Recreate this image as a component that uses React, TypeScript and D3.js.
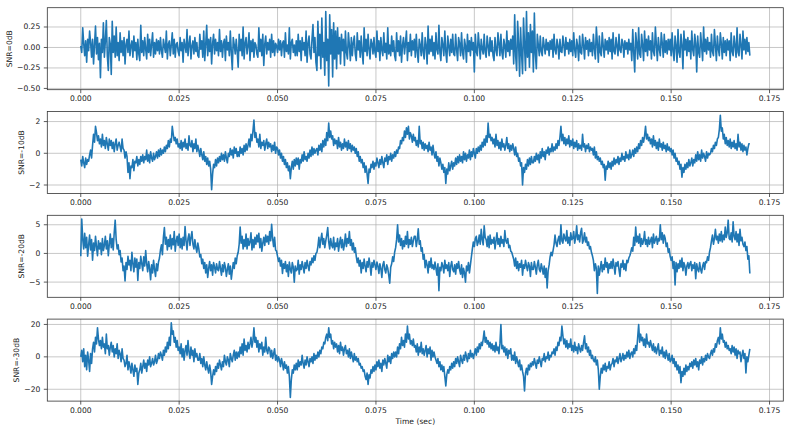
import * as d3 from "d3";

const W = 791;
const H = 433;
const DT = 0.00025; // seconds between samples

const xTicks = [0, 0.025, 0.05, 0.075, 0.1, 0.125, 0.15, 0.175];

// SNR = 0 dB (one row = 5 ms)
const snr0 = [
  0.02, -0.06, 0.24, 0.05, -0.1, 0.08, -0.18, 0.1, -0.04, 0.2, 0.06, -0.12, 0.1, -0.2, 0.04, 0.26, -0.08, 0.12, -0.15, 0.05,
  -0.37, 0.1, -0.06, 0.3, -0.12, 0.08, 0.33, -0.1, -0.28, 0.12, 0.04, -0.33, 0.32, -0.06, 0.14, -0.12, 0.25, -0.1, 0.06, -0.16,
  0.18, -0.06, 0.08, -0.1, 0.12, -0.2, 0.04, 0.1, -0.06, 0.2, -0.1, 0.02, 0.08, -0.12, 0.14, -0.04, 0.06, -0.15, 0.1, -0.08,
  -0.16, 0.27, -0.06, 0.08, -0.1, 0.12, -0.02, -0.14, 0.16, -0.06, 0.1, -0.1, 0.04, 0.18, -0.12, 0.06, -0.08, 0.1, -0.04, 0.08,
  -0.08, 0.12, -0.04, -0.12, 0.1, 0.02, -0.06, 0.2, -0.14, 0.04, 0.08, -0.1, 0.03, 0.18, -0.08, 0.1, -0.12, 0.04, 0.06, -0.05,
  -0.1, 0.12, -0.04, 0.06, -0.18, 0.1, 0.02, -0.06, 0.22, -0.1, 0.04, 0.14, -0.14, 0.02, 0.08, -0.08, 0.12, -0.05, 0.06, -0.1,
  -0.12, 0.16, -0.02, 0.08, -0.12, 0.2, -0.16, 0.04, 0.27, -0.1, 0.1, -0.05, 0.12, -0.2, 0.05, 0.16, -0.08, 0.1, -0.04, 0.06,
  -0.1, 0.22, -0.05, 0.08, -0.12, 0.05, 0.1, -0.16, 0.14, -0.03, 0.06, -0.1, 0.2, -0.06, -0.27, 0.12, 0.03, -0.08, 0.1, -0.05,
  -0.24, 0.16, -0.04, 0.1, -0.1, 0.25, -0.14, 0.05, 0.12, -0.08, 0.02, 0.18, -0.16, 0.08, -0.05, 0.1, -0.12, 0.06, 0.03, -0.08,
  -0.12, 0.24, -0.05, 0.1, -0.1, 0.16, -0.22, 0.04, 0.14, -0.08, 0.06, -0.03, 0.1, -0.12, 0.16, -0.06, 0.08, -0.1, 0.05, 0.02,
  -0.06, 0.1, -0.03, 0.08, -0.1, 0.05, 0.08, -0.12, 0.18, -0.05, 0.03, -0.08, 0.24, -0.14, 0.06, 0.1, -0.06, 0.03, -0.1, 0.08,
  -0.1, 0.16, -0.05, 0.08, -0.16, 0.12, -0.03, 0.06, -0.1, 0.2, -0.18, 0.05, 0.14, -0.08, -0.14, 0.1, 0.28, -0.06, 0.12, -0.18,
  -0.28, 0.32, -0.1, 0.16, -0.26, 0.36, -0.12, 0.06, -0.34, 0.44, -0.16, 0.1, -0.47, 0.4, -0.08, 0.22, -0.36, 0.3, -0.14, 0.2,
  -0.26, 0.24, -0.08, 0.12, -0.2, 0.16, -0.04, 0.1, -0.22, 0.2, -0.06, -0.14, 0.18, 0.03, -0.16, 0.12, -0.1, 0.06, 0.14, -0.08,
  -0.16, 0.18, -0.03, 0.08, -0.12, 0.14, -0.06, -0.2, 0.24, -0.05, 0.1, -0.1, 0.16, -0.02, -0.14, 0.1, 0.05, -0.08, 0.12, -0.06,
  -0.12, 0.2, -0.05, 0.08, -0.16, 0.12, -0.03, -0.1, 0.18, -0.06, 0.05, -0.14, 0.24, -0.08, 0.03, -0.1, 0.14, -0.05, 0.08, -0.1,
  -0.16, 0.18, -0.05, 0.08, -0.1, 0.14, -0.18, 0.03, 0.12, -0.08, 0.05, 0.2, -0.16, 0.06, -0.05, 0.16, -0.1, 0.08, -0.03, 0.1,
  -0.12, 0.16, -0.05, -0.18, 0.1, 0.03, -0.1, 0.18, -0.06, -0.14, 0.12, 0.02, -0.2, 0.26, -0.08, 0.1, -0.05, 0.14, -0.1, 0.06,
  -0.14, 0.18, -0.03, -0.08, 0.27, -0.06, -0.16, 0.12, 0.03, -0.1, 0.2, -0.05, -0.18, 0.14, 0.02, -0.1, 0.1, -0.06, 0.16, -0.08,
  -0.1, 0.16, -0.03, -0.16, 0.12, 0.05, -0.1, 0.18, -0.06, -0.14, 0.1, 0.02, -0.18, 0.16, -0.05, 0.08, -0.1, 0.12, -0.03, 0.06,
  -0.3, 0.16, -0.05, -0.1, 0.18, 0.03, -0.14, 0.1, -0.02, -0.08, 0.16, -0.06, -0.12, 0.14, 0.02, -0.1, 0.12, -0.05, 0.08, -0.1,
  -0.16, 0.12, -0.03, -0.1, 0.18, 0.05, -0.1, 0.16, -0.06, -0.14, 0.1, 0.02, -0.12, 0.2, -0.05, 0.08, -0.1, 0.1, -0.02, 0.14,
  -0.2, 0.4, -0.1, -0.28, 0.32, 0.05, -0.35, 0.24, -0.08, -0.32, 0.36, 0.02, -0.28, 0.44, -0.12, 0.18, -0.24, 0.28, -0.06, 0.2,
  -0.3, 0.42, -0.08, -0.26, 0.16, 0.03, -0.1, 0.14, -0.05, -0.1, 0.12, 0.02, -0.08, 0.1, -0.03, 0.06, -0.1, 0.08, -0.02, 0.1,
  -0.12, 0.16, -0.03, -0.08, 0.1, 0.02, -0.14, 0.1, -0.05, -0.06, 0.14, 0.03, -0.1, 0.12, -0.02, 0.06, -0.08, 0.1, -0.05, 0.08,
  -0.1, 0.18, -0.03, -0.12, 0.1, 0.02, -0.16, 0.14, -0.06, -0.08, 0.16, 0.03, -0.14, 0.12, -0.02, 0.08, -0.1, 0.1, -0.05, 0.06,
  -0.1, 0.16, -0.02, -0.14, 0.25, 0.05, -0.18, 0.14, -0.06, -0.1, 0.18, 0.02, -0.12, 0.1, -0.03, 0.08, -0.08, 0.12, -0.05, 0.1,
  -0.14, 0.18, -0.05, -0.08, 0.12, 0.02, -0.1, 0.16, -0.03, -0.06, 0.1, 0.05, -0.12, 0.08, -0.02, 0.06, -0.08, 0.1, -0.03, 0.05,
  -0.16, 0.22, -0.06, -0.3, 0.18, 0.05, -0.14, 0.24, -0.08, -0.12, 0.16, 0.03, -0.16, 0.2, -0.05, 0.1, -0.1, 0.14, -0.03, 0.08,
  -0.14, 0.18, -0.05, -0.1, 0.25, 0.03, -0.16, 0.12, -0.02, -0.1, 0.18, 0.05, -0.12, 0.16, -0.06, 0.08, -0.08, 0.1, -0.03, 0.1,
  -0.1, 0.18, -0.05, -0.16, 0.14, 0.02, -0.18, 0.22, -0.06, -0.12, 0.16, 0.03, -0.26, 0.2, -0.03, 0.1, -0.1, 0.12, -0.05, 0.08,
  -0.14, 0.2, -0.03, -0.1, 0.16, 0.05, -0.3, 0.14, -0.06, -0.12, 0.18, 0.02, -0.16, 0.25, -0.05, 0.1, -0.08, 0.12, -0.03, 0.06,
  -0.12, 0.16, -0.05, -0.1, 0.22, 0.03, -0.16, 0.14, -0.02, -0.1, 0.18, 0.05, -0.14, 0.12, -0.06, 0.08, -0.1, 0.1, -0.03, 0.08,
  -0.16, 0.18, -0.05, -0.1, 0.14, 0.02, -0.12, 0.24, -0.06, -0.1, 0.16, 0.03, -0.14, 0.2, -0.03, 0.1, -0.08, 0.12, -0.05, 0.06,
  -0.1,
];

// SNR = -10 dB
const snr10 = [
  -0.4, -0.8, -0.2, -0.6, -0.9, -0.3, -0.7, -0.4, -0.5, -0.1, 0.2, -0.3, 0.5, 1.2, 0.7, 1.7, 1.3, 0.8, 1.1, 0.6,
  0.9, 0.4, 1.2, 0.5, 0.8, 0.3, 1.0, 0.6, 0.2, 0.9, 0.5, 0.8, 0.3, 0.7, 0.1, 0.6, 0.9, 0.2, 0.5, 0.7,
  0.4, 0.1, 0.9, 0.3, 0.2, -0.3, 0.1, -0.2, -1.2, -0.6, -1.6, -0.8, -0.9, -0.4, -1.1, -0.5, -0.6, -0.2, -0.8, -0.4,
  -0.7, -0.2, -0.5, -0.1, -0.6, -0.2, -0.4, 0.2, -0.5, -0.1, -0.6, 0.1, -0.3, -0.5, 0.0, -0.4, -0.2, 0.1, -0.3, 0.2,
  -0.2, 0.3, -0.1, 0.2, 0.0, 0.4, 0.1, 0.5, 0.3, 0.8, 0.4, 0.9, 0.7, 1.7, 1.2, 0.8, 1.0, 0.6, 0.9, 0.4,
  0.6, 0.3, 0.8, 0.2, 0.7, 0.4, 0.9, 0.3, 0.6, 0.2, 1.1, 0.5, 0.4, 0.8, 0.1, 0.6, 0.3, 0.9, 0.1, 0.5,
  0.2, -0.2, 0.3, -0.1, -0.4, 0.1, -0.5, -0.2, -0.7, -0.3, -0.8, -0.5, -1.0, -2.3, -1.3, -0.7, -0.9, -0.4, -0.8, -0.3,
  -0.6, -0.2, -0.5, 0.0, -0.4, -0.1, -0.5, 0.1, -0.3, -0.6, 0.0, -0.2, 0.3, -0.1, 0.2, -0.3, 0.4, 0.0, 0.3, -0.2,
  0.1, -0.2, 0.4, 0.0, 0.3, -0.1, 0.5, 0.1, 0.6, 0.2, 0.5, 0.9, 0.4, 1.2, 0.8, 1.4, 2.1, 1.0, 1.3, 0.7,
  0.9, 0.4, 1.2, 0.3, 0.7, 0.5, 0.8, 0.2, 0.6, 0.9, 0.3, 0.7, 0.4, 0.6, 0.1, 0.5, 0.2, 0.7, 0.0, 0.4,
  0.3, -0.1, 0.2, -0.3, 0.0, -0.5, -0.2, -0.7, -0.4, -0.9, -0.6, -1.1, -0.8, -1.6, -0.9, -0.5, -1.0, -0.4, -0.8, -0.3,
  -0.7, -0.3, -1.0, -0.4, -0.6, -0.1, -0.5, 0.1, -0.4, -0.2, -0.5, 0.0, -0.3, 0.2, -0.2, 0.4, -0.1, 0.3, 0.0, 0.2,
  0.3, -0.1, 0.5, 0.2, 0.6, 0.1, 0.8, 0.4, 0.9, 0.5, 1.3, 0.8, 1.9, 1.0, 1.4, 0.9, 1.1, 0.5, 0.9, 0.6,
  0.8, 0.3, 1.0, 0.4, 0.7, 0.2, 0.6, 0.3, 0.9, 0.4, 0.7, 0.2, 0.8, 0.3, 0.6, 0.1, 0.5, 0.2, 0.4, 0.0,
  0.3, -0.2, 0.1, -0.5, -0.2, -0.6, -0.4, -0.9, -0.6, -1.2, -0.8, -1.3, -1.9, -1.0, -1.2, -0.7, -0.9, -0.5, -1.0, -0.6,
  -0.8, -0.3, -0.6, -0.9, -0.4, -0.7, -0.2, -0.6, -0.9, -0.3, -0.5, -0.1, -0.7, -0.2, -0.4, 0.0, -0.5, -0.1, -0.3, 0.1,
  -0.2, 0.2, 0.0, 0.4, 0.3, 0.8, 0.6, 1.0, 0.8, 1.4, 1.0, 1.6, 1.2, 1.7, 0.9, 1.3, 1.1, 0.7, 1.2, 0.8,
  1.0, 0.5, 0.8, 0.4, 1.7, 0.6, 0.8, 0.3, 0.7, 0.2, 0.6, 0.3, 0.5, 0.1, 0.7, 0.2, 0.4, -0.1, 0.5, 0.0,
  -0.3, 0.1, -0.5, -0.2, -0.8, -0.3, -0.6, -1.0, -0.7, -1.2, -0.9, -1.9, -1.0, -1.3, -0.6, -1.1, -0.8, -0.5, -1.0, -0.6,
  -0.8, -0.3, -0.7, -0.2, -0.6, -0.1, -0.5, -0.2, -0.6, 0.1, -0.4, 0.0, -0.5, -0.1, -0.3, 0.2, -0.4, 0.1, -0.2, 0.3,
  0.0, -0.3, 0.3, 0.0, 0.4, 0.1, 0.5, 0.2, 0.7, 0.4, 0.9, 0.5, 1.1, 0.7, 1.9, 1.0, 1.2, 0.8, 1.0, 0.6,
  0.9, 0.4, 1.2, 0.5, 0.8, 0.3, 0.7, 0.2, 0.9, 0.4, 0.6, 0.2, 0.5, 1.0, 0.3, 0.6, 0.1, 0.5, 0.2, 0.6,
  0.3, -0.1, 0.4, -0.2, 0.0, -0.5, -0.3, -0.8, -0.6, -2.0, -0.9, -1.2, -0.7, -1.0, -0.4, -0.8, -0.3, -0.7, -0.2, -0.6,
  -0.6, -0.2, -0.5, 0.0, -0.4, -0.1, -0.6, 0.1, -0.3, 0.3, -0.2, 0.1, -0.4, 0.2, 0.0, 0.4, -0.1, 0.3, 0.1, 0.6,
  0.1, 0.4, 0.2, 0.6, 0.3, 0.8, 0.5, 1.0, 1.7, 0.8, 1.2, 0.6, 1.0, 0.5, 0.9, 0.6, 1.1, 0.4, 0.8, 0.5,
  0.9, 0.3, 0.7, 0.4, 0.8, 0.2, 0.6, 0.3, 0.5, 0.2, 1.2, 0.4, 0.6, 0.1, 0.5, 0.3, 0.6, 0.1, 0.4, 0.2,
  0.3, -0.1, 0.4, -0.3, 0.1, -0.4, -0.2, -0.5, -0.3, -0.7, -0.5, -0.9, -0.7, -1.7, -0.8, -1.0, -0.5, -0.9, -0.6, -1.0,
  -0.5, -0.8, -0.3, -0.7, -0.4, -0.6, -0.2, -0.7, -0.3, -0.5, 0.0, -0.4, -0.2, -0.5, 0.1, -0.3, -0.1, -0.4, 0.2, -0.3,
  -0.1, 0.2, -0.2, 0.3, 0.0, 0.4, 0.1, 0.6, 0.3, 0.8, 0.5, 1.0, 0.7, 1.1, 1.7, 0.9, 1.2, 0.8, 1.0, 0.6,
  0.9, 0.4, 1.1, 0.5, 0.8, 0.3, 0.7, 0.2, 0.9, 0.4, 0.6, 0.2, 0.7, 0.3, 0.5, 0.1, 0.6, 0.2, 0.4, 0.1,
  0.3, -0.1, 0.2, -0.3, 0.0, -0.5, -0.3, -0.7, -0.5, -1.0, -0.7, -1.5, -0.9, -1.2, -0.7, -1.0, -0.6, -0.9, -0.4, -0.8,
  -0.6, -0.3, -0.8, -0.4, -0.6, -0.1, -0.5, 0.1, -0.4, -0.1, -0.5, 0.2, -0.3, 0.0, -0.2, -0.5, 0.1, -0.3, 0.0, -0.1,
  0.0, 0.3, 0.1, 0.5, 0.3, 0.7, 0.5, 0.9, 1.0, 1.5, 2.4, 1.4, 1.6, 0.9, 1.2, 0.6, 1.0, 0.5, 0.8, 0.4,
  0.9, 0.3, 0.7, 0.4, 0.8, 0.3, 0.6, 0.2, 1.2, 0.4, 0.7, 0.2, 0.6, 0.1, 0.5, 0.2, 0.4, -0.1, 0.3, 0.6,
  0.6,
];

// SNR = -20 dB
const snr20 = [
  -0.5, 6.0, 2.5, 0.8, 3.5, 1.0, 2.8, -0.5, 1.5, 3.2, 0.6, 2.4, -1.2, 1.8, 0.5, 3.0, 1.2, -0.4, 2.2, 0.8,
  1.8, -0.2, 2.6, 0.5, 1.4, 3.0, 0.8, 2.2, -0.4, 1.6, 3.4, 1.0, 2.6, 0.6, 3.6, 5.8, 2.4, 0.8, 1.5, -0.2,
  0.5, -1.5, -0.8, -3.0, -2.2, -4.8, -1.6, -2.8, -0.5, -2.0, -1.2, -3.0, 0.2, -1.8, -3.2, -0.8, -2.4, -1.0, -4.7, -1.6,
  -2.6, -0.5, -1.8, -3.0, -0.6, -2.2, 0.5, -1.8, -3.2, -1.4, -2.6, -4.6, -2.0, -3.4, -1.2, -2.8, -4.0, -1.8, -3.0, -1.5,
  -0.8, 0.6, 1.5, -0.2, 2.8, 4.5, 1.6, 2.8, 0.6, 2.4, 1.2, 3.2, 0.8, 2.6, 1.5, 3.8, 0.4, 2.2, 3.0, 1.4,
  3.4, 1.0, 2.6, 0.8, 2.8, 1.4, 4.7, 2.2, 0.6, 2.6, 3.4, 1.4, 2.8, 3.8, 1.6, 0.8, 2.4, 1.0, 0.2, 1.8,
  0.8, -0.6, -0.2, -1.8, -1.0, -2.6, -1.6, -3.4, -2.0, -4.2, -2.6, -1.4, -3.0, -2.0, -3.8, -1.6, -2.4, -3.4, -1.8, -2.8,
  -3.0, -1.4, -2.6, -3.8, -2.0, -3.2, -1.6, -2.4, -4.0, -2.8, -1.8, -3.6, -2.2, -4.5, -3.0, -1.6, -2.6, -0.8, -1.8, -0.4,
  0.2, 1.6, 4.6, 1.8, 3.0, 0.8, 2.4, 1.2, 3.4, 0.8, 2.6, 1.4, 2.0, 3.6, 0.6, 2.4, 1.0, 2.8, 1.6, 3.2,
  2.0, 3.5, 1.0, 2.6, 0.4, 1.8, 2.8, 1.4, 3.2, 2.0, 3.0, 1.6, 3.8, 2.2, 5.1, 2.6, 1.2, 2.8, 0.6, 0.4,
  -0.5, -1.4, -0.8, -2.2, -1.2, -3.5, -1.8, -2.6, -1.4, -3.2, -2.0, -4.0, -1.5, -2.8, -3.4, -1.6, -2.4, -5.0, -2.2, -3.0,
  -2.8, -1.2, -3.6, -2.0, -2.8, -1.4, -2.4, -3.4, -1.6, -2.6, -1.2, -2.2, -3.0, -1.4, -2.0, -0.8, -1.6, -0.4, -1.2, 0.0,
  0.2, 1.2, 2.8, 1.0, 2.4, 3.5, 1.6, 2.6, 1.0, 2.2, 3.2, 4.5, 2.0, 0.8, 2.6, 1.4, 1.0, 2.8, 0.6, 1.8,
  1.2, 2.6, 0.4, 1.8, 2.8, 1.0, 2.4, 0.6, 1.6, 3.4, 1.2, 2.6, 1.8, 3.8, 1.4, 2.4, 0.6, 1.8, 0.2, 1.0,
  -0.5, -1.6, -0.8, -2.2, -1.2, -3.4, -1.6, -2.6, -1.0, -2.2, -3.2, -1.4, -2.4, -0.8, -2.0, -3.8, -1.6, -2.4, -1.2, -2.0,
  -2.8, -1.5, -2.2, -3.5, -1.8, -2.6, -4.2, -2.0, -1.4, -2.8, -3.4, -2.0, -2.6, -3.8, -5.2, -2.4, -1.8, -0.6, -1.4, 0.2,
  1.0, 2.4, 5.0, 2.0, 3.2, 1.4, 2.6, 0.8, 2.2, 1.2, 3.0, 1.6, 3.8, 1.0, 2.4, 1.6, 2.8, 1.2, 2.2, 3.0,
  3.0, 1.2, 2.4, 4.3, 1.6, 2.2, 0.4, 1.0, -1.0, -0.2, -2.5, -1.2, -2.0, -3.4, -1.4, -2.4, -0.8, -2.6, -2.0, -2.8,
  -1.5, -2.6, -3.8, -1.8, -6.5, -2.4, -3.0, -1.6, -2.2, -3.4, -1.2, -2.6, -2.0, -3.0, -1.6, -4.0, -2.2, -1.4, -2.8, -3.2,
  -2.0, -3.6, -1.8, -2.6, -1.4, -2.8, -3.6, -2.0, -4.2, -2.6, -3.4, -5.0, -2.2, -3.0, -1.6, -3.4, -2.0, -0.6, 0.8, 2.0,
  1.2, 2.6, 3.0, 1.4, 2.0, 3.2, 1.6, 4.2, 2.4, 1.5, 4.8, 2.8, 2.4, 1.2, 3.0, 1.0, 3.2, 1.6, 2.4, 1.8,
  2.8, 0.8, 2.2, 3.6, 1.6, 2.6, 1.2, 3.0, 1.8, 2.4, 1.2, 4.0, 2.2, 1.8, 2.6, 1.0, 1.4, 0.4, 0.2, -0.4,
  -1.0, -2.2, -0.8, -2.6, -1.4, -3.0, -1.8, -2.4, -1.2, -3.8, -2.0, -2.6, -1.2, -2.2, -3.0, -1.6, -2.2, -4.0, -1.6, -2.8,
  -2.8, -1.4, -2.4, -3.6, -2.0, -1.2, -2.8, -3.2, -1.8, -2.6, -3.6, -2.2, -4.2, -2.6, -6.0, -3.0, -2.0, -0.6, 0.2, -0.4,
  0.5, 1.5, 3.2, 1.8, 1.2, 2.4, 3.0, 1.6, 5.0, 2.2, 1.8, 3.4, 2.6, 2.2, 4.0, 1.8, 2.8, 1.4, 3.6, 2.4,
  2.6, 3.8, 1.8, 2.8, 4.8, 2.4, 3.2, 2.0, 3.6, 4.4, 1.8, 2.4, 3.6, 2.0, 2.8, 1.4, 2.0, 0.8, 1.2, 0.2,
  -0.4, -1.2, -3.0, -1.8, -2.6, -7.0, -2.2, -3.8, -2.6, -1.4, -3.2, -2.0, -2.8, -0.8, -2.4, -1.6, -3.4, -1.8, -2.6, -1.4,
  -2.6, -1.0, -2.2, -3.6, -1.6, -2.2, -1.4, -2.8, -4.0, -1.8, -2.4, -1.2, -2.8, -1.8, -3.0, -1.2, -1.6, -0.8, -0.4, 0.2,
  1.0, 0.4, 2.8, 1.4, 4.6, 2.0, 3.0, 1.8, 3.4, 1.2, 2.6, 1.6, 2.2, 3.8, 1.6, 2.4, 1.2, 2.8, 1.6, 2.2,
  2.8, 1.0, 3.4, 1.8, 2.4, 3.0, 1.6, 2.6, 2.2, 5.0, 2.4, 3.6, 1.8, 3.2, 2.6, 1.2, 1.8, 0.2, 0.8, -0.5,
  -1.2, -0.6, -2.6, -1.4, -5.5, -1.6, -3.2, -1.8, -2.6, -1.2, -2.4, -0.8, -3.0, -1.6, -2.2, -3.8, -2.2, -1.6, -2.6, -1.8,
  -1.4, -3.0, -2.0, -2.6, -1.6, -4.4, -1.8, -2.8, -3.2, -1.6, -2.8, -3.4, -2.2, -1.6, -2.8, -1.4, -1.6, -0.6, -1.2, 0.2,
  1.0, 2.2, 3.2, 1.6, 2.6, 4.2, 2.4, 3.0, 1.8, 3.4, 2.2, 3.8, 2.0, 3.2, 2.4, 4.6, 2.8, 3.6, 5.8, 2.6,
  2.4, 3.6, 2.0, 5.5, 3.0, 2.4, 3.8, 2.0, 3.4, 1.4, 4.2, 2.2, 2.8, 1.6, 1.2, 2.0, 0.5, 1.2, -1.0, -0.4,
  -3.5,
];

// SNR = -30 dB
const snr30 = [
  0, 4, -3, 5, -6, 1, -8, 3, -2, -9, 2, -4, 5, 9, 3, 12, 8, 18, 11, 7,
  10, 5, 12, 6, 8, 2, 14, 5, 7, 1, 6, 9, 3, 7, 0, 5, 2, 8, -1, 4,
  2, -3, 5, -1, -2, -6, -4, 1, -8, -3, -6, -10, -4, -8, -12, -5, -9, -7, -17, -10,
  -8, -4, -10, -6, -2, -7, -4, -9, -2, -5, 0, -6, -4, -1, -5, -3, 1, -4, -2, 2,
  -1, 3, 1, -2, 4, 1, 6, 3, 9, 5, 12, 7, 21, 14, 16, 9, 12, 6, 10, 4,
  6, 2, 8, 0, 5, -2, 4, 7, 1, 10, 3, -1, 6, 1, 4, -3, 5, 0, 2, -2,
  -2, 2, -4, -1, -6, 0, -5, -8, -3, -7, -10, -5, -9, -17, -12, -8, -11, -6, -9, -4,
  -7, -2, -5, -8, -3, -6, 1, -3, -5, 0, -2, -6, 2, -1, -3, 1, 4, -2, 3, -1,
  3, 0, 6, 2, 8, 1, 11, 4, 7, 3, 9, 5, 8, 12, 6, 10, 18, 9, 12, 6,
  10, 3, 8, 5, 9, 1, 6, 3, 12, 4, 2, 6, 5, 0, 4, -1, 2, 5, -2, 1,
  -3, 0, -2, -6, -1, -4, -8, -3, -7, -5, -10, -6, -12, -25, -14, -8, -10, -5, -8, -4,
  -8, -2, -6, -3, -5, 1, -4, -7, -2, -5, 0, -3, -6, -1, -3, 0, -4, 2, -2, 1,
  -1, 3, 0, 4, 2, 6, 5, 9, 8, 12, 14, 10, 18, 12, 14, 8, 10, 5, 9, 6,
  8, 3, 7, 2, 9, 4, 6, 1, 5, 7, 2, 4, 0, 5, -1, 3, 0, -3, 2, -2,
  0, -3, -1, -5, -4, -7, -6, -9, -8, -12, -14, -10, -17, -11, -13, -8, -10, -6, -9, -5,
  -8, -3, -6, -2, -7, -4, -9, -2, -5, -1, -4, -7, 1, -3, 0, -4, 2, -1, 3, 0,
  3, 0, 6, 2, 8, 5, 12, 7, 10, 6, 14, 9, 19, 11, 14, 8, 10, 7, 11, 6,
  7, 3, 8, 1, 6, 3, 9, 2, 5, 1, 4, 7, 0, 5, 2, 6, -2, 4, 0, 3,
  0, -2, -4, -1, -6, -3, -8, -5, -9, -6, -12, -18, -11, -8, -10, -6, -8, -4, -7, -3,
  -6, -1, -4, 0, -3, -6, 1, -2, -4, 1, -2, 3, 0, -3, 2, -1, 4, 0, 2, -1,
  2, 5, 1, 6, 3, 8, 5, 9, 7, 11, 16, 9, 12, 8, 10, 6, 9, 5, 8, 4,
  7, 3, 9, 4, 6, 2, 8, 20, 5, 7, 3, 6, 1, 5, -1, 4, 2, 5, -2, 1,
  -2, 3, -4, 0, -3, -6, -2, -8, -5, -9, -12, -21, -10, -7, -11, -5, -8, -4, -6, -3,
  -5, -1, -4, -7, -2, -4, 0, -3, -6, -1, -2, 2, -3, 0, -1, 3, -2, 1, 0, 3,
  2, 5, 1, 6, 4, 9, 7, 12, 10, 19, 13, 8, 11, 6, 10, 5, 8, 6, 11, 4,
  7, 3, 9, 4, 6, 2, 8, 5, 3, 7, 4, 9, 13, 5, 8, 3, 6, 1, 4, -1,
  1, -2, -3, 0, -5, -2, -8, -20, -12, -7, -10, -5, -8, -4, -9, -6, -7, -3, -8, -5,
  -4, -1, -6, -2, -3, 0, -4, -1, 2, -3, -1, 2, -2, 1, -1, 3, 0, 4, -1, 2,
  3, 0, 5, 2, 7, 4, 12, 20, 9, 14, 10, 12, 7, 11, 6, 14, 8, 9, 6, 10,
  7, 4, 8, 3, 6, 2, 5, 8, 1, 4, 2, 6, 0, 3, -1, 4, 1, -2, 2, -3,
  -2, 1, -4, -1, -6, -3, -8, -5, -10, -6, -16, -9, -12, -7, -11, -5, -9, -6, -8, -4,
  -6, -3, -7, -2, -5, -1, -6, -3, -8, -2, -4, 0, -5, -1, -3, 1, -2, 2, 0, -1,
  2, 4, 1, 5, 3, 8, 6, 10, 12, 8, 18, 11, 14, 9, 10, 6, 9, 5, 7, 4,
  5, 2, 7, 3, 6, 1, 5, -1, 4, 2, 3, -3, 1, 4, -1, 2, -10, 0, -3, 1,
  5,
];

const labels = ["SNR=0dB", "SNR=-10dB", "SNR=-20dB", "SNR=-30dB"];
const series = [snr0, snr10, snr20, snr30];
const yTicks = [
  [-0.5, -0.25, 0, 0.25],
  [-2, 0, 2],
  [-5, 0, 5],
  [-20, 0, 20],
];
const yFormats = [".2f", "d", "d", "d"];

const LEFT = 47.3;
const RIGHT = 783.3;
const TOP = 7.7;
const STEP = 103.8;
const PANEL_H = 82;
const FONT = "DejaVu Sans, sans-serif";
const FS = 7.6;
const BLUE = "#1f77b4";

// rough DejaVu Sans advance widths, for placing the y label like matplotlib does
function textWidth(s: string) {
  let w = 0;
  for (const ch of s) {
    if (ch === "." || ch === ",") w += 0.318;
    else if (ch === "\u2212") w += 0.838;
    else w += 0.636;
  }
  return w * FS;
}

function Panel({ index }: { index: number }) {
  const values = series[index];
  const times = values.map((_, i) => i * DT);
  const top = TOP + index * STEP;
  const bottom = top + PANEL_H;

  const [t0, t1] = d3.extent(times) as [number, number];
  const xPad = (t1 - t0) * 0.05;
  const x = d3.scaleLinear().domain([t0 - xPad, t1 + xPad]).range([LEFT, RIGHT]);

  const [v0, v1] = d3.extent(values) as [number, number];
  const yPad = (v1 - v0) * 0.05;
  const y = d3.scaleLinear().domain([v0 - yPad, v1 + yPad]).range([bottom, top]);

  const line = d3
    .line<number>()
    .x((_, i) => x(times[i]))
    .y((d) => y(d));

  const yFmt = d3.format(yFormats[index]);
  const yLabels = yTicks[index].map((t) => yFmt(t));
  const maxW = d3.max(yLabels, textWidth) ?? 0;
  const yLabelX = LEFT - 3.5 - 3.5 - maxW - 4 - FS * 0.45;
  const clipId = `clip-${index}`;

  return (
    <g>
      <defs>
        <clipPath id={clipId}>
          <rect x={LEFT} y={top} width={RIGHT - LEFT} height={PANEL_H} />
        </clipPath>
      </defs>
      {/* grid */}
      {xTicks.map((t) => (
        <line
          key={"gx" + t}
          x1={x(t)}
          x2={x(t)}
          y1={top}
          y2={bottom}
          stroke="#b0b0b0"
          strokeWidth={0.7}
        />
      ))}
      {yTicks[index].map((t) => (
        <line
          key={"gy" + t}
          x1={LEFT}
          x2={RIGHT}
          y1={y(t)}
          y2={y(t)}
          stroke="#b0b0b0"
          strokeWidth={0.7}
        />
      ))}
      <path
        d={line(values) ?? ""}
        fill="none"
        stroke={BLUE}
        strokeWidth={1.6}
        strokeLinejoin="round"
        clipPath={`url(#${clipId})`}
      />
      <rect
        x={LEFT}
        y={top}
        width={RIGHT - LEFT}
        height={PANEL_H}
        fill="none"
        stroke="#333"
        strokeWidth={0.8}
      />
      {/* x ticks */}
      {xTicks.map((t) => (
        <g key={"tx" + t}>
          <line x1={x(t)} x2={x(t)} y1={bottom} y2={bottom + 3.5} stroke="#333" strokeWidth={0.8} />
          <text
            x={x(t)}
            y={bottom + 6}
            dominantBaseline="hanging"
            textAnchor="middle"
            fontFamily={FONT}
            fontSize={FS}
            fill="#222"
          >
            {d3.format(".3f")(t)}
          </text>
        </g>
      ))}
      {/* y ticks */}
      {yTicks[index].map((t, i) => (
        <g key={"ty" + t}>
          <line x1={LEFT - 3.5} x2={LEFT} y1={y(t)} y2={y(t)} stroke="#333" strokeWidth={0.8} />
          <text
            x={LEFT - 7}
            y={y(t)}
            dominantBaseline="central"
            textAnchor="end"
            fontFamily={FONT}
            fontSize={FS}
            fill="#222"
          >
            {yLabels[i]}
          </text>
        </g>
      ))}
      <text
        transform={`translate(${yLabelX},${(top + bottom) / 2}) rotate(-90)`}
        textAnchor="middle"
        dominantBaseline="central"
        fontFamily={FONT}
        fontSize={FS}
        fill="#222"
      >
        {labels[index]}
      </text>
    </g>
  );
}

export default function App() {
  return (
    <svg
      width={W}
      height={H}
      viewBox={`0 0 ${W} ${H}`}
      style={{ position: "absolute", left: 0, top: 0, background: "#fff" }}
    >
      <rect width={W} height={H} fill="#fff" />
      {series.map((_, i) => (
        <Panel key={i} index={i} />
      ))}
      <text
        x={(LEFT + RIGHT) / 2}
        y={421.5}
        textAnchor="middle"
        dominantBaseline="central"
        fontFamily={FONT}
        fontSize={FS}
        fill="#222"
      >
        Time (sec)
      </text>
    </svg>
  );
}
